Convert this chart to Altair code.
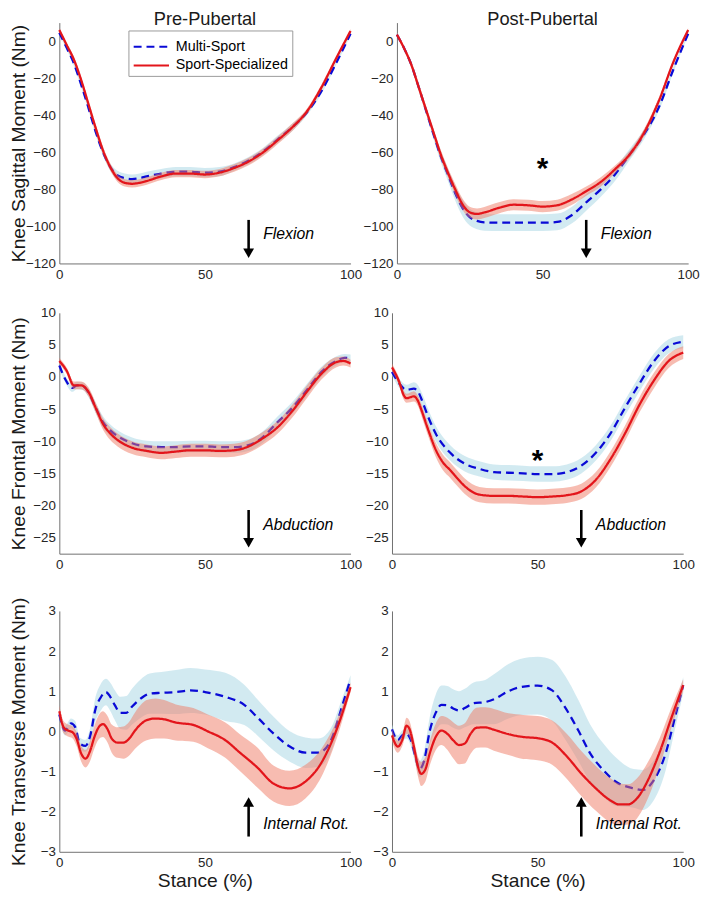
import altair as alt
import pandas as pd

FONT = "Liberation Sans"
SERIES = ["Multi-Sport", "Sport-Specialized"]
GROUPS = ["Pre-Pubertal", "Post-Pubertal"]
ROW_TITLES = ["Knee Sagittal Moment (Nm)", "Knee Frontal Moment (Nm)", "Knee Transverse Moment (Nm)"]
X_TITLE = "Stance (%)"
X_TICKS = [0, 50, 100]
Y_DOMAINS = [[-120, 10], [-27.5, 10], [-3, 3]]
Y_TICKS = [
    [-120, -100, -80, -60, -40, -20, 0],
    [-25, -20, -15, -10, -5, 0, 5, 10],
    [-3, -2, -1, 0, 1, 2, 3],
]

# ---------- Pre-Pubertal, sagittal ----------
PRE_SAG_MS_X = [0, 2.5, 5, 7.5, 10, 12.5, 15, 17.5, 20, 22.5, 25, 27.5, 30, 35, 40, 45, 50, 55, 60, 65, 70, 75, 80, 85, 90, 95, 100]
PRE_SAG_MS_Y = [4.5, -3.5, -12, -23.5, -36, -49, -60, -68, -72.5, -74, -74.5, -74, -73, -71.5, -70.5, -70.5, -71, -70.5, -68, -64.5, -59.5, -53, -46.5, -38.5, -27, -12, 4]
PRE_SAG_MS_SD = [1, 1, 1.5, 1.5, 1.5, 2, 2, 2, 2.5, 2.5, 2.5, 2.5, 2.5, 2.5, 2.5, 2.5, 2.5, 2.5, 2, 2, 2, 2, 2, 1.5, 1.5, 1, 1]
PRE_SAG_SS_X = [0, 2.5, 5, 7.5, 10, 12.5, 15, 17.5, 20, 22.5, 25, 27.5, 30, 35, 40, 45, 50, 55, 60, 65, 70, 75, 80, 85, 90, 95, 100]
PRE_SAG_SS_Y = [6, -2, -10, -21, -34, -47, -59, -68, -74, -76.5, -77, -76.5, -75.5, -73, -71.5, -71.5, -72, -71, -68.5, -65, -60, -53.5, -46.5, -38, -25, -9.5, 5.5]
PRE_SAG_SS_SD = [1, 1, 1.5, 1.5, 1.5, 2, 2, 2, 2, 2, 2, 2, 2, 2, 2, 2, 2, 2, 2, 2, 2, 2, 2, 1.5, 1.5, 1, 1]

# ---------- Post-Pubertal, sagittal ----------
POST_SAG_MS_X = [0, 2.5, 5, 7.5, 10, 12.5, 15, 17.5, 20, 22.5, 25, 27.5, 30, 35, 40, 45, 50, 55, 60, 65, 70, 75, 80, 85, 90, 95, 100]
POST_SAG_MS_Y = [3.5, -4, -13, -25, -37.5, -50, -62, -72, -82, -90, -95, -97, -97.8, -98, -98, -98, -98, -97.6, -94, -87, -80, -71.7, -61, -50, -35.5, -15, 4]
POST_SAG_MS_SD = [1, 1, 1.5, 2, 2, 2.5, 3, 3.5, 4, 4.5, 4.5, 4.5, 4.5, 4.5, 4.5, 4.5, 4.5, 4.5, 4.5, 4.5, 4, 3.5, 3, 2.5, 2, 1.5, 1]
POST_SAG_SS_X = [0, 2.5, 5, 7.5, 10, 12.5, 15, 17.5, 20, 22.5, 25, 27.5, 30, 35, 40, 45, 50, 55, 60, 65, 70, 75, 80, 85, 90, 95, 100]
POST_SAG_SS_Y = [3.5, -4, -13, -25, -37, -49, -61, -71, -80, -88, -92.4, -93.3, -92.5, -90, -88.3, -88.6, -89.3, -88.6, -85.5, -81, -76, -69, -61, -49, -32, -11, 6]
POST_SAG_SS_SD = [1, 1, 1.5, 2, 2, 2, 2.5, 2.5, 3, 3, 3, 3, 3, 3, 3, 3, 3, 3, 3, 2.5, 2.5, 2, 2, 2, 1.5, 1, 1]

# ---------- Pre-Pubertal, frontal ----------
PRE_FRO_MS_X = [0, 2, 4.5, 6, 8, 10, 12.5, 15, 17.5, 20, 25, 30, 35, 40, 45, 50, 55, 60, 65, 70, 75, 80, 85, 90, 95, 98, 100]
PRE_FRO_MS_Y = [1.8, -0.3, -1.7, -1.3, -1.4, -2.4, -4.8, -7, -8.3, -9.2, -10.3, -10.8, -10.9, -10.9, -10.8, -10.8, -10.9, -10.9, -10.6, -9.3, -7.0, -4.8, -2, 0.8, 2.5, 3, 2.9]
PRE_FRO_MS_SD = [0.5, 0.5, 0.6, 0.6, 0.6, 0.7, 0.8, 0.9, 0.9, 0.9, 0.9, 0.9, 0.9, 0.9, 0.9, 0.9, 0.9, 0.9, 0.9, 0.9, 0.9, 0.9, 0.9, 0.8, 0.7, 0.6, 0.6]
PRE_FRO_SS_X = [0, 2.5, 5, 7.5, 10, 12.5, 15, 17.5, 20, 25, 30, 35, 40, 45, 50, 55, 60, 65, 70, 75, 80, 85, 90, 95, 97.5, 100]
PRE_FRO_SS_Y = [2.5, 1, -1.3, -1.3, -2.3, -4.8, -7.3, -8.8, -9.8, -11, -11.5, -11.8, -11.6, -11.4, -11.4, -11.5, -11.4, -10.8, -9.5, -7.8, -5.3, -2.3, 0.5, 2.3, 2.5, 2.1]
PRE_FRO_SS_SD = [0.5, 0.5, 0.6, 0.6, 0.7, 0.8, 0.9, 1, 1, 1, 1, 1, 1, 1, 1, 1, 1, 1, 1, 1, 1, 1, 0.9, 0.8, 0.7, 0.6]

# ---------- Post-Pubertal, frontal ----------
POST_FRO_MS_X = [0, 2.5, 5, 7.5, 9, 10, 12.5, 15, 20, 25, 30, 35, 40, 45, 50, 55, 60, 65, 70, 75, 80, 85, 90, 95, 100]
POST_FRO_MS_Y = [0.8, -1, -2, -1.8, -2.3, -3.3, -6.3, -8.8, -11.8, -13.5, -14.3, -14.8, -14.9, -15.0, -15.1, -15.1, -14.8, -13.8, -11.8, -8.8, -4.8, -1, 2.5, 4.8, 5.5]
POST_FRO_MS_SD = [0.6, 0.7, 0.8, 1, 1, 1.1, 1.2, 1.2, 1.2, 1.2, 1.2, 1.2, 1.2, 1.2, 1.2, 1.2, 1.2, 1.2, 1.2, 1.2, 1.2, 1.2, 1.2, 1.1, 1]
POST_FRO_SS_X = [0, 2.5, 4, 5, 7.5, 9, 10, 12.5, 15, 17.5, 20, 22.5, 25, 30, 35, 40, 45, 50, 55, 60, 65, 70, 75, 80, 85, 90, 95, 100]
POST_FRO_SS_Y = [1.5, -0.8, -2.8, -3.3, -3.0, -3.8, -5, -8.3, -11.3, -13.3, -14.5, -15.8, -17, -18.3, -18.5, -18.5, -18.6, -18.7, -18.6, -18.4, -17.8, -16, -12.8, -8.8, -4.3, -0.5, 2.5, 3.8]
POST_FRO_SS_SD = [0.6, 0.6, 0.7, 0.7, 0.8, 0.8, 0.9, 1, 1.1, 1.2, 1.2, 1.2, 1.2, 1.2, 1.2, 1.2, 1.2, 1.2, 1.2, 1.2, 1.2, 1.2, 1.2, 1.2, 1.2, 1.2, 1.1, 1]

# ---------- Pre-Pubertal, transverse ----------
PRE_TRA_MS_X = [0, 2, 4, 5.5, 7, 9, 10.5, 12.5, 14, 16, 17.5, 19, 21, 23, 25, 28, 31, 35, 40, 45, 50, 57, 63.5, 68, 73.5, 79, 84.5, 89, 93.4, 97, 100]
PRE_TRA_MS_Y = [0.42, 0.02, 0.2, 0.1, -0.3, -0.36, -0.14, 0.58, 0.82, 0.98, 0.86, 0.66, 0.46, 0.46, 0.62, 0.82, 0.94, 0.96, 0.98, 1.02, 0.98, 0.86, 0.66, 0.35, -0.05, -0.37, -0.53, -0.53, -0.2, 0.6, 1.3]
PRE_TRA_MS_SD = [0.12, 0.12, 0.12, 0.15, 0.15, 0.15, 0.2, 0.3, 0.33, 0.33, 0.35, 0.37, 0.4, 0.42, 0.45, 0.48, 0.5, 0.52, 0.55, 0.56, 0.56, 0.6, 0.5, 0.45, 0.42, 0.38, 0.38, 0.35, 0.3, 0.2, 0.1]
PRE_TRA_SS_X = [0, 1.5, 3, 4.5, 6, 7.5, 9, 10.5, 12, 13.5, 15, 16.5, 18, 20, 22, 24, 26, 28, 30, 33, 36, 40, 46, 51, 57, 62, 68, 73.5, 79, 84.5, 90, 95.5, 100]
PRE_TRA_SS_Y = [0.5, 0.1, 0.02, -0.02, -0.2, -0.55, -0.68, -0.5, -0.15, 0.1, 0.18, 0.06, -0.18, -0.28, -0.28, -0.18, 0.02, 0.18, 0.28, 0.32, 0.3, 0.22, 0.16, 0.0, -0.22, -0.53, -0.9, -1.3, -1.42, -1.25, -0.78, 0.1, 1.1]
PRE_TRA_SS_SD = [0.15, 0.15, 0.15, 0.15, 0.18, 0.2, 0.22, 0.25, 0.28, 0.3, 0.32, 0.33, 0.35, 0.38, 0.4, 0.42, 0.45, 0.48, 0.5, 0.5, 0.48, 0.45, 0.42, 0.42, 0.44, 0.46, 0.5, 0.45, 0.44, 0.42, 0.35, 0.22, 0.12]

# ---------- Post-Pubertal, transverse ----------
POST_TRA_MS_X = [0, 2, 3.5, 5, 6.5, 8, 9.5, 11, 13, 15, 17, 19, 21, 23, 25, 28, 32, 35, 40, 44, 50, 55, 59.5, 64, 68, 73, 77, 83, 86, 89.5, 94, 97, 100]
POST_TRA_MS_Y = [0.05, -0.22, -0.1, -0.06, -0.22, -0.62, -0.94, -0.74, 0.02, 0.46, 0.66, 0.65, 0.57, 0.52, 0.58, 0.7, 0.73, 0.8, 1.0, 1.1, 1.14, 1.02, 0.59, 0.02, -0.54, -1.0, -1.26, -1.42, -1.46, -1.26, -0.54, 0.3, 1.15]
POST_TRA_MS_SD = [0.12, 0.12, 0.12, 0.12, 0.15, 0.18, 0.2, 0.25, 0.35, 0.45, 0.48, 0.48, 0.48, 0.48, 0.48, 0.52, 0.55, 0.62, 0.68, 0.7, 0.72, 0.76, 0.79, 0.76, 0.72, 0.66, 0.6, 0.48, 0.5, 0.5, 0.42, 0.3, 0.2]
POST_TRA_SS_X = [0, 2, 3.5, 5, 6, 7.5, 9, 10, 11.5, 13, 15, 17, 19, 21, 23, 25, 27, 29, 32, 35, 40, 45, 50, 55, 60, 65, 70, 75, 78, 81, 84, 88, 92, 96, 100]
POST_TRA_SS_Y = [-0.1, -0.38, -0.22, 0.14, 0.06, -0.38, -0.9, -1.06, -0.94, -0.54, -0.14, 0.02, -0.06, -0.22, -0.34, -0.3, -0.06, 0.09, 0.1, 0.04, -0.07, -0.14, -0.17, -0.28, -0.62, -1.05, -1.42, -1.72, -1.82, -1.82, -1.68, -1.2, -0.5, 0.35, 1.15]
POST_TRA_SS_SD = [0.15, 0.15, 0.15, 0.2, 0.2, 0.2, 0.25, 0.3, 0.3, 0.3, 0.33, 0.36, 0.4, 0.45, 0.48, 0.5, 0.5, 0.5, 0.5, 0.52, 0.52, 0.55, 0.55, 0.55, 0.56, 0.56, 0.56, 0.55, 0.52, 0.5, 0.5, 0.45, 0.35, 0.25, 0.15]

# ---------- annotations ----------
DIRECTION_LABELS = ["Flexion", "Abduction", "Internal Rot."]
ARROW_X = [65, 65, 65]
ARROW_TAIL = [-96.5, -20.7, -2.62]
ARROW_HEAD = [-114.5, -25.8, -1.76]
ARROW_SHAPE = ["triangle-down", "triangle-down", "triangle-up"]
LABEL_X = [70, 70, 70]
LABEL_Y = [-104, -23, -2.3]
STAR_X = [50, 50, None]
STAR_Y = [-64.7, -11.9, None]   # only in Post-Pubertal panels of rows 1-2

PANEL_DATA = [
    [(PRE_SAG_MS_X, PRE_SAG_MS_Y, PRE_SAG_MS_SD, PRE_SAG_SS_X, PRE_SAG_SS_Y, PRE_SAG_SS_SD),
     (POST_SAG_MS_X, POST_SAG_MS_Y, POST_SAG_MS_SD, POST_SAG_SS_X, POST_SAG_SS_Y, POST_SAG_SS_SD)],
    [(PRE_FRO_MS_X, PRE_FRO_MS_Y, PRE_FRO_MS_SD, PRE_FRO_SS_X, PRE_FRO_SS_Y, PRE_FRO_SS_SD),
     (POST_FRO_MS_X, POST_FRO_MS_Y, POST_FRO_MS_SD, POST_FRO_SS_X, POST_FRO_SS_Y, POST_FRO_SS_SD)],
    [(PRE_TRA_MS_X, PRE_TRA_MS_Y, PRE_TRA_MS_SD, PRE_TRA_SS_X, PRE_TRA_SS_Y, PRE_TRA_SS_SD),
     (POST_TRA_MS_X, POST_TRA_MS_Y, POST_TRA_MS_SD, POST_TRA_SS_X, POST_TRA_SS_Y, POST_TRA_SS_SD)],
]

BLUE = "#0a0ad6"
RED = "#e3151b"
BAND_BLUE = "#add8e6"
BAND_RED = "#f07a64"
W, H = 295, 244

LEGEND = alt.Legend(
    title=None, orient="none", legendX=70, legendY=8,
    symbolType="M-1,0H2.2", symbolSize=500, symbolStrokeWidth=2.2,
    labelFont=FONT, labelFontSize=14.5, labelColor="#000000",
    fillColor="#ffffff", strokeColor="#9a9a9a", padding=4,
    rowPadding=0, labelOffset=19,
)
COLOR = alt.Color("series:N", scale=alt.Scale(domain=SERIES, range=[BLUE, RED]), legend=LEGEND)
DASH = alt.StrokeDash("series:N", scale=alt.Scale(domain=SERIES, range=[[8, 5], [1, 0]]), legend=LEGEND)


def series_df(xs, ys, sds, name):
    return pd.DataFrame({
        "x": xs, "y": ys,
        "lo": [y - s for y, s in zip(ys, sds)],
        "hi": [y + s for y, s in zip(ys, sds)],
        "series": name,
    })


def panel(r, c):
    ms_x, ms_y, ms_sd, ss_x, ss_y, ss_sd = PANEL_DATA[r][c]
    dms = series_df(ms_x, ms_y, ms_sd, SERIES[0])
    dss = series_df(ss_x, ss_y, ss_sd, SERIES[1])

    xax = alt.Axis(values=X_TICKS, labelFlush=False, labelOverlap=False,
                   title=X_TITLE if r == 2 else None)
    yax = alt.Axis(values=Y_TICKS[r], labelOverlap=False,
                   title=ROW_TITLES[r] if c == 0 else None)
    xs = alt.Scale(domain=[0, 100], nice=False)
    ys = alt.Scale(domain=Y_DOMAINS[r], nice=False, zero=False)

    def X(f="x"):
        return alt.X(f"{f}:Q", scale=xs, axis=xax)

    def Y(f):
        return alt.Y(f"{f}:Q", scale=ys, axis=yax)

    band_ms = alt.Chart(dms).mark_area(color=BAND_BLUE, opacity=0.55, interpolate="monotone").encode(
        x=X(), y=Y("lo"), y2="hi:Q")
    line_ms = alt.Chart(dms).mark_line(strokeWidth=2.3, interpolate="monotone").encode(
        x=X(), y=Y("y"), color=COLOR, strokeDash=DASH)
    band_ss = alt.Chart(dss).mark_area(color=BAND_RED, opacity=0.5, interpolate="monotone").encode(
        x=X(), y=Y("lo"), y2="hi:Q")
    line_ss = alt.Chart(dss).mark_line(strokeWidth=2.3, interpolate="monotone").encode(
        x=X(), y=Y("y"), color=COLOR, strokeDash=DASH)

    adf = pd.DataFrame({"x": [ARROW_X[r]], "tail": [ARROW_TAIL[r]], "head": [ARROW_HEAD[r]]})
    shaft = alt.Chart(adf).mark_rule(color="#000000", strokeWidth=2.6).encode(
        x=X(), y=Y("tail"), y2="head:Q")
    head = alt.Chart(adf).mark_point(shape=ARROW_SHAPE[r], filled=True, color="#000000",
                                     opacity=1, size=120).encode(x=X(), y=Y("head"))
    ldf = pd.DataFrame({"x": [LABEL_X[r]], "y": [LABEL_Y[r]], "t": [DIRECTION_LABELS[r]]})
    label = alt.Chart(ldf).mark_text(align="left", baseline="middle", font=FONT, fontSize=16,
                                     fontStyle="italic", color="#000000").encode(
        x=X(), y=Y("y"), text="t:N")

    layers = [band_ms, line_ms, band_ss, line_ss, shaft, head, label]
    if c == 1 and STAR_X[r] is not None:
        sdf = pd.DataFrame({"x": [STAR_X[r]], "y": [STAR_Y[r]], "t": ["*"]})
        star = alt.Chart(sdf).mark_text(align="center", baseline="alphabetic", dy=17, font=FONT,
                                        fontSize=30, fontWeight="bold", color="#000000").encode(
            x=X(), y=Y("y"), text="t:N")
        layers.append(star)

    ch = alt.layer(*layers).properties(width=W, height=H)
    if r == 0:
        ch = ch.properties(title=alt.TitleParams(GROUPS[c], font=FONT, fontSize=18.5,
                                                 fontWeight="normal", color="#1a1a1a", offset=-6))
    return ch


rows = [alt.hconcat(panel(r, 0), panel(r, 1), spacing=0) for r in range(3)]
chart = alt.vconcat(*rows, spacing=25).properties(
    padding={"left": 0, "top": -4, "right": 0, "bottom": 0}
).configure_view(stroke=None).configure_axis(
    grid=False, ticks=False, tickSize=0, domainColor="#707070", domainWidth=1,
    labelFont=FONT, labelFontSize=13.5, labelColor="#262626", labelPadding=4,
    titleFont=FONT, titleFontSize=19.5, titleFontWeight="normal", titleColor="#1a1a1a",
).configure_axisY(minExtent=30, maxExtent=30, titlePadding=1).configure_axisX(titlePadding=3)

chart.save("out.html", embed_options={"renderer": "svg", "actions": False})
